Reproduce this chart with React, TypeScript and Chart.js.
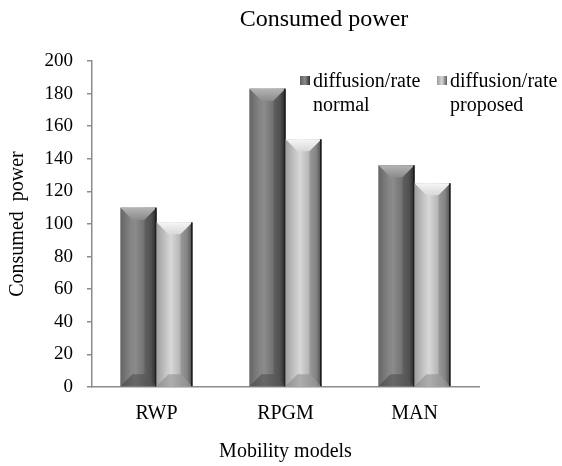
import React, { useEffect, useRef } from "react";
import { Chart, registerables } from "chart.js";

Chart.register(...registerables);

const categories = ["RWP", "RPGM", "MAN"];
const normalValues = [110, 183, 136];
const proposedValues = [101, 152, 125];
const seriesNames = [["diffusion/rate", "normal"], ["diffusion/rate", "proposed"]];
const yTicks = [0, 20, 40, 60, 80, 100, 120, 140, 160, 180, 200];
const chartTitle = "Consumed power";
const xTitle = "Mobility models";
const yTitle = "Consumed  power";

const palettes = [
  { edgeL: "#5e5e5e", mid: "#8c8c8c", edgeR: "#2e2e2e", top: "#b4b4b4", bot: "#4a4a4a" },
  { edgeL: "#9a9a9a", mid: "#d8d8d8", edgeR: "#5a5a5a", top: "#f6f6f6", bot: "#8a8a8a" },
];

const FONT = "'Liberation Serif', 'Times New Roman', serif";

const barPainter = {
  id: "barPainter",
  afterDatasetsDraw(chart: any) {
    const ctx = chart.ctx;
    chart.data.datasets.forEach((ds: any, di: number) => {
      const meta = chart.getDatasetMeta(di);
      const p = palettes[di];
      meta.data.forEach((bar: any) => {
        const { x, y, base, width } = bar.getProps(["x", "y", "base", "width"], true);
        const L = x - width / 2;
        const R = x + width / 2;
        const top = y;
        const bottom = base;
        const d = Math.min(12, (bottom - top) / 2);
        ctx.save();
        const g = ctx.createLinearGradient(L, 0, R, 0);
        g.addColorStop(0, p.edgeL);
        g.addColorStop(0.4, p.mid);
        g.addColorStop(0.85, p.edgeL);
        g.addColorStop(1, p.edgeR);
        ctx.fillStyle = g;
        ctx.fillRect(L, top, R - L, bottom - top);
        const gt = ctx.createLinearGradient(0, top, 0, top + d);
        gt.addColorStop(0, p.top);
        gt.addColorStop(1, p.mid);
        ctx.fillStyle = gt;
        ctx.beginPath();
        ctx.moveTo(L, top);
        ctx.lineTo(R, top);
        ctx.lineTo(R - d, top + d);
        ctx.lineTo(L + d, top + d);
        ctx.closePath();
        ctx.fill();
        ctx.fillStyle = "rgba(0,0,0,0.14)";
        ctx.beginPath();
        ctx.moveTo(R, top);
        ctx.lineTo(R - d, top + d);
        ctx.lineTo(R - d, bottom - d);
        ctx.lineTo(R, bottom);
        ctx.closePath();
        ctx.fill();
        ctx.fillStyle = "rgba(255,255,255,0.05)";
        ctx.beginPath();
        ctx.moveTo(L, top);
        ctx.lineTo(L + d, top + d);
        ctx.lineTo(L + d, bottom - d);
        ctx.lineTo(L, bottom);
        ctx.closePath();
        ctx.fill();
        ctx.fillStyle = p.bot;
        ctx.globalAlpha = 0.55;
        ctx.beginPath();
        ctx.moveTo(L, bottom);
        ctx.lineTo(R, bottom);
        ctx.lineTo(R - d, bottom - d);
        ctx.lineTo(L + d, bottom - d);
        ctx.closePath();
        ctx.fill();
        ctx.globalAlpha = 1;
        ctx.fillStyle = "#1e1e1e";
        ctx.fillRect(R - 1.5, top, 1.5, bottom - top);
        ctx.restore();
      });
    });
  },
};

const textPainter = {
  id: "textPainter",
  afterDraw(chart: any) {
    const ctx = chart.ctx;
    const area = chart.chartArea;
    ctx.save();
    ctx.fillStyle = "#000";
    ctx.textBaseline = "middle";
    ctx.textAlign = "center";
    ctx.font = `24px ${FONT}`;
    ctx.fillText(chartTitle, 324, 20);
    ctx.font = `20px ${FONT}`;
    ctx.fillText(xTitle, (area.left + area.right) / 2, 452);
    ctx.save();
    ctx.translate(18, (area.top + area.bottom) / 2);
    ctx.rotate(-Math.PI / 2);
    ctx.fillText(yTitle, 0, 0);
    ctx.restore();
    const lx = [300, 437];
    ctx.textAlign = "left";
    ctx.font = `20px ${FONT}`;
    seriesNames.forEach((lines, i) => {
      const p = palettes[i];
      const g = ctx.createLinearGradient(lx[i], 0, lx[i] + 10, 0);
      g.addColorStop(0, p.edgeL);
      g.addColorStop(0.5, p.mid);
      g.addColorStop(1, p.edgeR);
      ctx.fillStyle = g;
      ctx.fillRect(lx[i], 76, 10, 9);
      ctx.fillStyle = "#000";
      ctx.fillText(lines[0], lx[i] + 13, 82);
      ctx.fillText(lines[1], lx[i] + 13, 106);
    });
    ctx.restore();
  },
};

export default function App() {
  const ref = useRef<HTMLCanvasElement>(null);
  useEffect(() => {
    document.body.style.margin = "0";
    const chart = new Chart(ref.current!, {
      type: "bar",
      data: {
        labels: categories,
        datasets: [
          { label: seriesNames[0].join(" "), data: normalValues, backgroundColor: palettes[0].mid },
          { label: seriesNames[1].join(" "), data: proposedValues, backgroundColor: palettes[1].mid },
        ],
      },
      options: {
        animation: false,
        responsive: false,
        devicePixelRatio: 1,
        layout: { padding: { top: 61, right: 83, left: 0, bottom: 0 } },
        plugins: { legend: { display: false }, title: { display: false }, tooltip: { enabled: false } },
        datasets: { bar: { categoryPercentage: 0.558, barPercentage: 1 } },
        scales: {
          x: {
            grid: { display: false, drawTicks: false },
            border: { display: true, color: "#8c8c8c", width: 1.5 },
            ticks: { color: "#000", font: { family: FONT, size: 20 }, padding: 15 },
            afterFit(scale: any) {
              scale.height = 79;
            },
          },
          y: {
            min: 0,
            max: 200,
            afterBuildTicks(scale: any) {
              scale.ticks = yTicks.map((v) => ({ value: v }));
            },
            grid: { drawOnChartArea: false, tickLength: 5, color: "#8c8c8c", lineWidth: 1.5 },
            border: { display: true, color: "#8c8c8c", width: 1.5 },
            ticks: { color: "#000", font: { family: FONT, size: 19 }, padding: 14 },
            afterFit(scale: any) {
              scale.width = 92;
            },
          },
        },
      },
      plugins: [barPainter, textPainter],
    });
    return () => chart.destroy();
  }, []);
  return (
    <div style={{ width: 562, height: 466 }}>
      <canvas ref={ref} width={562} height={466} style={{ display: "block" }} />
    </div>
  );
}
